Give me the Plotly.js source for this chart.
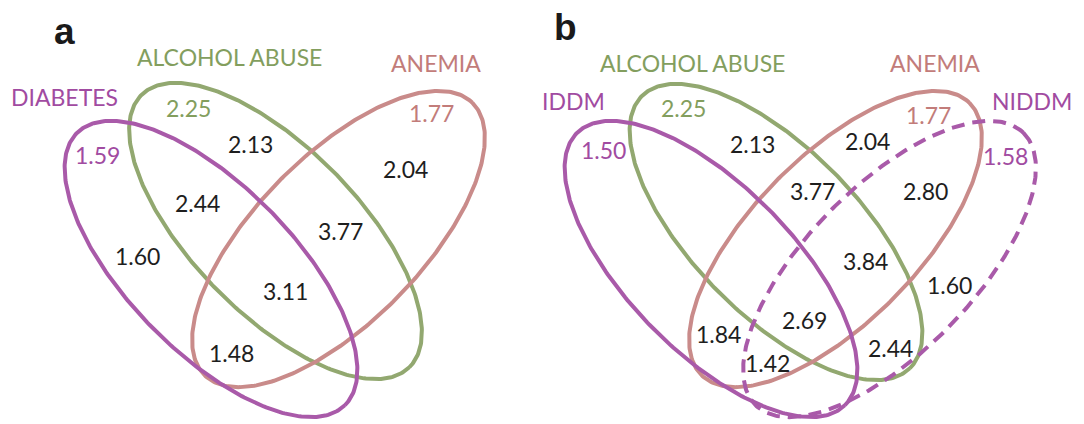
<!DOCTYPE html>
<html>
<head>
<meta charset="utf-8">
<script src="https://cdn.plot.ly/plotly-3.0.1.min.js"></script>
<style>html,body{margin:0;padding:0;background:#fff;}#chart{width:1084px;height:424px;}</style>
</head>
<body>
<div id="chart"></div>
<script>
// ---------- data ----------
const panelLetters = ["a", "b"];

// panel a
const setsA = ["DIABETES", "ALCOHOL ABUSE", "ANEMIA"];
const setValuesA = [1.59, 2.25, 1.77];
const overlapValuesA = [2.13, 2.04, 2.44, 3.77, 1.60, 3.11, 1.48];

// panel b
const setsB = ["IDDM", "ALCOHOL ABUSE", "ANEMIA", "NIDDM"];
const setValuesB = [1.50, 2.25, 1.77, 1.58];
const overlapValuesB = [2.13, 2.04, 3.77, 2.80, 3.84, 1.60, 2.69, 1.84, 2.44, 1.42];

// ---------- styling / layout geometry ----------
const PURPLE = "#a95aa9", GREEN = "#92a870", PINK = "#c98b8a";
const PURPLE_T = "#a14ba1", GREEN_T = "#839e5e", PINK_T = "#c27c7a", DARK = "#1e1e1e";
const FONT = "Lato, 'Open Sans', sans-serif";
const NUM_SIZE = 23;

// ellipse geometry: [cx, cy, a, b, angleDeg, color, dash]
const ellipsesA = [
  [275.5, 231, 191, 83, 45.5, GREEN, "solid"],
  [338.5, 239, 191, 83, -45.5, PINK, "solid"],
  [211, 269, 191, 83, 45.5, PURPLE, "solid"]
];
const ellipsesB = [
  [776, 232, 191, 83, 45.5, GREEN, "solid"],
  [835.5, 239, 191, 83, -45.5, PINK, "solid"],
  [711, 269, 191, 83, 45.5, PURPLE, "solid"],
  [889.5, 269, 191, 83, -45.5, PURPLE, "13px,8px"]
];

// label positions (layout)
const setLabelPosA = [[64, 97], [229.6, 57], [436.4, 63]];
const setLabelColA = [PURPLE_T, GREEN_T, PINK_T];
const setValuePosA = [[97.5, 154.7], [188.3, 107.7], [431.3, 113.3]];
const overlapPosA = [[250.8, 143.8], [405, 169.2], [197.5, 202.8], [340.8, 230.5], [137.3, 255.5], [285.2, 290.5], [231.8, 353]];

const setLabelPosB = [[573, 100.5], [692.5, 63], [935.4, 63], [1032, 100.5]];
const setLabelColB = [PURPLE_T, GREEN_T, PINK_T, PURPLE_T];
const setValuePosB = [[603.3, 149.5], [683.8, 108.3], [928.3, 115.3], [1005.8, 155.8]];
const overlapPosB = [[752.5, 143.8], [867.5, 140.5], [812.5, 190.8], [925.8, 190.8], [865, 260.5], [949, 284.7], [804, 319.7], [718.3, 334.3], [890, 348.3], [767, 363]];
const letterPos = [[64, 31], [565, 27]];

// ---------- build ----------
function ellipseTrace(e) {
  const [cx, cy, a, b, deg, color, dash] = e;
  const th = deg * Math.PI / 180;
  const xs = [], ys = [];
  for (let i = 0; i <= 360; i++) {
    const t = i * Math.PI / 180;
    xs.push(cx + a * Math.cos(t) * Math.cos(th) - b * Math.sin(t) * Math.sin(th));
    ys.push(cy + a * Math.cos(t) * Math.sin(th) + b * Math.sin(t) * Math.cos(th));
  }
  return {x: xs, y: ys, type: "scatter", mode: "lines", hoverinfo: "skip",
          line: {color: color, width: 4, dash: dash}, showlegend: false};
}

const traces = ellipsesA.concat(ellipsesB).map(ellipseTrace);
const ann = [];
function txt(p, s, color, size, family) {
  ann.push({x: p[0], y: p[1], xref: "x", yref: "y", text: s, showarrow: false,
            xanchor: "center", yanchor: "middle",
            font: {family: family || FONT, size: size || NUM_SIZE, color: color}});
}
setsA.forEach((s, i) => txt(setLabelPosA[i], s, setLabelColA[i]));
setValuesA.forEach((v, i) => txt(setValuePosA[i], v.toFixed(2), setLabelColA[i]));
overlapValuesA.forEach((v, i) => txt(overlapPosA[i], v.toFixed(2), DARK));
setsB.forEach((s, i) => txt(setLabelPosB[i], s, setLabelColB[i]));
setValuesB.forEach((v, i) => txt(setValuePosB[i], v.toFixed(2), setLabelColB[i]));
overlapValuesB.forEach((v, i) => txt(overlapPosB[i], v.toFixed(2), DARK));
panelLetters.forEach((l, i) => txt(letterPos[i], "<b>" + l + "</b>", "#1a1a1a", 37, "'Liberation Sans', Arial, sans-serif"));

const layout = {
  width: 1084, height: 424,
  margin: {l: 0, r: 0, t: 0, b: 0, pad: 0},
  paper_bgcolor: "#ffffff", plot_bgcolor: "#ffffff",
  xaxis: {range: [0, 1084], visible: false, fixedrange: true},
  yaxis: {range: [424, 0], visible: false, fixedrange: true},
  annotations: ann,
  hovermode: false,
  showlegend: false
};
Plotly.newPlot("chart", traces, layout, {staticPlot: true, displayModeBar: false});
</script>
</body>
</html>
